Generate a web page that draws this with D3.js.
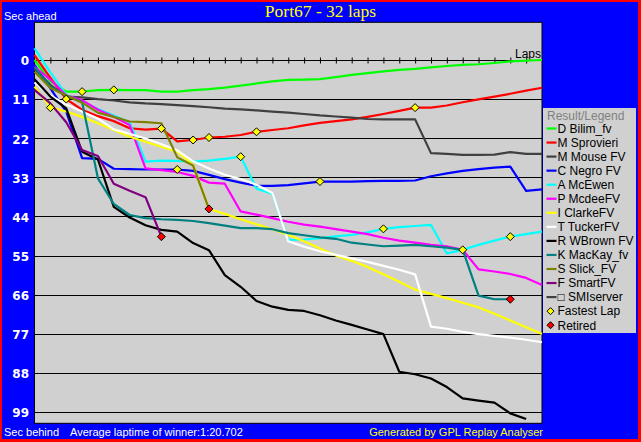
<!DOCTYPE html>
<html>
<head>
<meta charset="utf-8">
<script src="https://cdn.jsdelivr.net/npm/d3@7"></script>
<style>
  html, body { margin: 0; padding: 0; background: #0000ff; }
  svg { display: block; }
</style>
</head>
<body>
<script>
// ---------- DATA (seconds behind, lap 0..n) ----------
const drivers = ["D Bilim_fv","M Sprovieri","M Mouse FV","C Negro FV","A McEwen","P McdeeFV","I ClarkeFV","T TuckerFV","R WBrown FV","K MacKay_fv","S Slick_FV","F SmartFV"];
const bilim   = [0, 6.0, 8.9, 8.9, 8.5, 8.4, 8.5, 8.5, 8.9, 8.9, 8.5, 8.2, 7.8, 7.2, 6.6, 6.0, 5.6, 5.5, 5.4, 4.8, 4.2, 3.7, 3.2, 2.8, 2.5, 2.1, 1.7, 1.4, 1.2, 0.85, 0.4, 0.2, 0];
const sprovieri = [-1.4, 5.0, 11.0, 14.0, 15.8, 17.2, 19.2, 19.6, 19.3, 22.9, 22.5, 21.8, 21.6, 21.1, 20.2, 19.7, 19.2, 18.4, 17.7, 17.2, 16.7, 16.0, 15.2, 14.3, 13.4, 13.4, 12.8, 11.9, 11.1, 10.3, 9.5, 8.6, 7.8];
const mouse   = [2.5, 7.0, 10.3, 10.5, 11.0, 11.4, 11.9, 12.2, 12.4, 12.7, 13.0, 13.3, 13.7, 13.9, 14.2, 14.5, 14.8, 15.2, 15.6, 15.9, 16.2, 16.6, 16.7, 16.7, 16.7, 26.2, 26.4, 26.7, 26.7, 26.6, 25.9, 26.4, 26.4];
const negro   = [1.4, 8.0, 14.5, 27.6, 27.8, 30.6, 30.7, 30.8, 30.8, 30.8, 31.2, 32.3, 33.5, 34.5, 35.4, 35.4, 35.2, 34.7, 34.2, 34.2, 34.2, 34.1, 34.0, 34.0, 33.9, 32.7, 31.9, 31.2, 30.7, 30.3, 30.0, 36.8, 36.4];
const mcewen  = [-3.3, 3.5, 9.8, 11.7, 13.8, 15.6, 17.5, 28.6, 28.3, 28.4, 28.6, 28.3, 27.8, 27.2, 36.2, 37.6, 50.6, 50.5, 50.1, 49.6, 49.2, 48.5, 47.5, 47.0, 46.7, 46.4, 54.4, 53.4, 52.0, 50.8, 49.7, 49.0, 48.3];
const mcdee   = [1.9, 5.5, 10.0, 11.3, 14.0, 16.0, 18.3, 30.5, 31.0, 31.5, 32.6, 34.5, 34.8, 42.6, 43.5, 44.5, 45.5, 46.3, 46.9, 47.6, 48.3, 49.0, 50.0, 50.8, 51.4, 52.0, 52.4, 53.4, 58.9, 59.5, 60.2, 61.3, 63.3];
const clarke  = [7.5, 13.4, 14.5, 16.0, 17.8, 19.7, 21.6, 23.0, 24.4, 25.8, 29.5, 41.9, 43.3, 44.8, 46.2, 47.6, 49.2, 51.0, 53.0, 55.0, 56.5, 58.2, 60.3, 62.4, 64.6, 65.8, 67.0, 68.3, 69.6, 71.4, 73.3, 75.2, 77.1];
const tucker  = [6.3, 10.0, 12.5, 14.5, 16.5, 19.5, 20.8, 22.1, 23.7, 25.4, 28.5, 30.5, 32.3, 33.5, 35.1, 37.4, 51.0, 52.5, 53.8, 54.8, 55.8, 56.8, 57.9, 59.0, 60.3, 75.0, 75.6, 76.5, 77.1, 77.6, 78.1, 78.7, 79.4];
const wbrown  = [5.4, 10.3, 13.6, 25.8, 28.0, 41.3, 44.3, 46.5, 47.8, 48.3, 51.5, 53.5, 60.5, 63.8, 67.8, 69.4, 70.3, 70.6, 71.8, 73.3, 74.5, 75.8, 77.1, 87.7, 88.4, 89.6, 92.0, 95.2, 95.8, 96.4, 99.4, 101.0];
const mackay  = [2.0, 7.5, 10.0, 11.8, 33.3, 40.5, 43.6, 44.5, 44.8, 45.0, 45.3, 45.9, 46.6, 47.3, 47.3, 47.6, 48.7, 49.3, 49.9, 50.3, 51.4, 51.9, 52.4, 52.2, 52.0, 52.4, 52.8, 53.4, 66.3, 67.3, 67.3];
const slick   = [3.3, 7.9, 10.0, 12.0, 14.8, 16.0, 17.3, 17.5, 17.8, 27.4, 29.7, 41.9];
const smart   = [8.4, 12.2, 17.5, 25.3, 27.0, 34.8, 36.8, 38.6, 49.7];
const seriesValues = [bilim, sprovieri, mouse, negro, mcewen, mcdee, clarke, tucker, wbrown, mackay, slick, smart];
const retired = ["K MacKay_fv", "S Slick_FV", "F SmartFV"];
const fastestLaps = [
  ["I ClarkeFV", 1], ["M Sprovieri", 2], ["D Bilim_fv", 3], ["D Bilim_fv", 5],
  ["M Sprovieri", 8], ["C Negro FV", 9], ["M Sprovieri", 10], ["M Sprovieri", 11],
  ["A McEwen", 13], ["M Sprovieri", 14], ["C Negro FV", 18], ["A McEwen", 22],
  ["M Sprovieri", 24], ["K MacKay_fv", 27], ["A McEwen", 30]
];
const yTicks = [0, 11, 22, 33, 44, 55, 66, 77, 88, 99];
const totalLaps = 32;
const titleText = "Port67 - 32 laps";

// ---------- STYLES ----------
const colors = ["#00ff00","#ff0000","#404040","#0000ff","#00ffff","#ff00ff","#ffff00","#ffffff","#000000","#008080","#808000","#800080"];
const W = 641, H = 442;
const plot = {left: 34.5, right: 542, top: 22.3, bottom: 423.3};

const svg = d3.select("body").append("svg").attr("width", W).attr("height", H);

// frame
svg.append("rect").attr("width", W).attr("height", H).attr("fill", "#ff0000");
svg.append("rect").attr("x", 2).attr("y", 2).attr("width", 636).attr("height", 437).attr("fill", "#0000ff");

const x = d3.scaleLinear().domain([0, totalLaps]).range([plot.left, plot.right]);
const y = d3.scaleLinear().domain([-10.6, 102.2]).range([plot.top, plot.bottom]);

// plot area
svg.append("rect").attr("x", plot.left).attr("y", plot.top)
  .attr("width", plot.right - plot.left).attr("height", plot.bottom - plot.top)
  .attr("fill", "#d0d0d0").attr("stroke", "#000").attr("stroke-width", 1);

// gridlines
svg.append("g").selectAll("line").data(yTicks).join("line")
  .attr("x1", plot.left).attr("x2", plot.right)
  .attr("y1", d => Math.round(y(d)) + 0.5).attr("y2", d => Math.round(y(d)) + 0.5)
  .attr("stroke", "#000").attr("stroke-width", 1);

// lap ticks via axis on y=0
const xAxis = d3.axisBottom(x).tickValues(d3.range(1, totalLaps)).tickSize(6).tickFormat("");
const gx = svg.append("g").attr("transform", `translate(0,${Math.round(y(0)) - 2.5})`).call(xAxis);
gx.select(".domain").remove();
gx.selectAll("line").attr("stroke", "#000");

svg.append("text").attr("x", 541).attr("y", 58).attr("text-anchor", "end")
  .attr("font-family", "Liberation Sans, Arial, sans-serif").attr("font-size", 12).attr("fill", "#000").text("Laps");

// y labels via axis
const yAxis = d3.axisLeft(y).tickValues(yTicks).tickSize(0).tickPadding(0);
const gy = svg.append("g").attr("transform", `translate(29,0)`).call(yAxis);
gy.select(".domain").remove();
gy.selectAll("text").attr("fill", "#fff").attr("font-family", "DejaVu Sans, sans-serif")
  .attr("font-weight", "bold").attr("font-size", 12).attr("dy", "0.4em");

// lines
const line = d3.line().x((d, i) => x(i)).y(d => y(d));
const gl = svg.append("g");
seriesValues.forEach((vals, k) => {
  gl.append("path").attr("d", line(vals)).attr("fill", "none")
    .attr("stroke", colors[k]).attr("stroke-width", 2.2).attr("stroke-linejoin", "round");
});

const diamond = "M0,-4L4,0L0,4L-4,0Z";
// retired markers
retired.forEach(name => {
  const k = drivers.indexOf(name), vals = seriesValues[k], lap = vals.length - 1;
  svg.append("path").attr("d", diamond).attr("transform", `translate(${x(lap)},${y(vals[lap])})`)
    .attr("fill", "#ff0000").attr("stroke", "#000").attr("stroke-width", 1);
});
// fastest lap markers
fastestLaps.forEach(([name, lap]) => {
  const k = drivers.indexOf(name);
  svg.append("path").attr("d", diamond).attr("transform", `translate(${x(lap)},${y(seriesValues[k][lap])})`)
    .attr("fill", "#ffff00").attr("stroke", "#000").attr("stroke-width", 1);
});

// title and texts
svg.append("text").attr("x", 320.5).attr("y", 17).attr("text-anchor", "middle")
  .attr("font-family", "Liberation Serif, Times New Roman, serif").attr("font-size", 17.5)
  .attr("fill", "#ffff00").text(titleText);
const sans = "Liberation Sans, Arial, sans-serif";
svg.append("text").attr("x", 4).attr("y", 19.5).attr("font-family", sans).attr("font-size", 11).attr("fill", "#fff").text("Sec ahead");
svg.append("text").attr("x", 4).attr("y", 435.5).attr("font-family", sans).attr("font-size", 11).attr("fill", "#fff").text("Sec behind");
svg.append("text").attr("x", 70).attr("y", 435.5).attr("font-family", sans).attr("font-size", 11).attr("fill", "#fff").text("Average laptime of winner:1:20.702");
svg.append("text").attr("x", 543).attr("y", 435.5).attr("text-anchor", "end").attr("font-family", sans).attr("font-size", 11).attr("fill", "#ffff00").text("Generated by GPL Replay Analyser");

// legend
const lg = svg.append("g");
lg.append("rect").attr("x", 543).attr("y", 108).attr("width", 93).attr("height", 225).attr("fill", "#d0d0d0");
lg.append("text").attr("x", 547).attr("y", 119.5).attr("font-family", sans).attr("font-size", 12).attr("fill", "#808080").text("Result/Legend");
const legendItems = drivers.map((d, k) => ({label: d, color: colors[k], type: "line"}))
  .concat([{label: "\u25A1 SMIserver", color: "#404040", type: "line"},
           {label: "Fastest Lap", color: "#ffff00", type: "dot"},
           {label: "Retired", color: "#ff0000", type: "dot"}]);
legendItems.forEach((it, i) => {
  const cy = 128.5 + i * 14.05;
  if (it.type === "line") {
    lg.append("line").attr("x1", 546.5).attr("x2", 556.5).attr("y1", cy).attr("y2", cy)
      .attr("stroke", it.color).attr("stroke-width", 2.2);
  } else {
    lg.append("path").attr("d", "M0,-3.5L3.5,0L0,3.5L-3.5,0Z").attr("transform", `translate(550.5,${cy})`)
      .attr("fill", it.color).attr("stroke", "#000").attr("stroke-width", 1);
  }
  lg.append("text").attr("x", 557.5).attr("y", cy + 4.3).attr("font-family", sans).attr("font-size", 12)
    .attr("fill", "#000").text(it.label);
});
</script>
</body>
</html>
